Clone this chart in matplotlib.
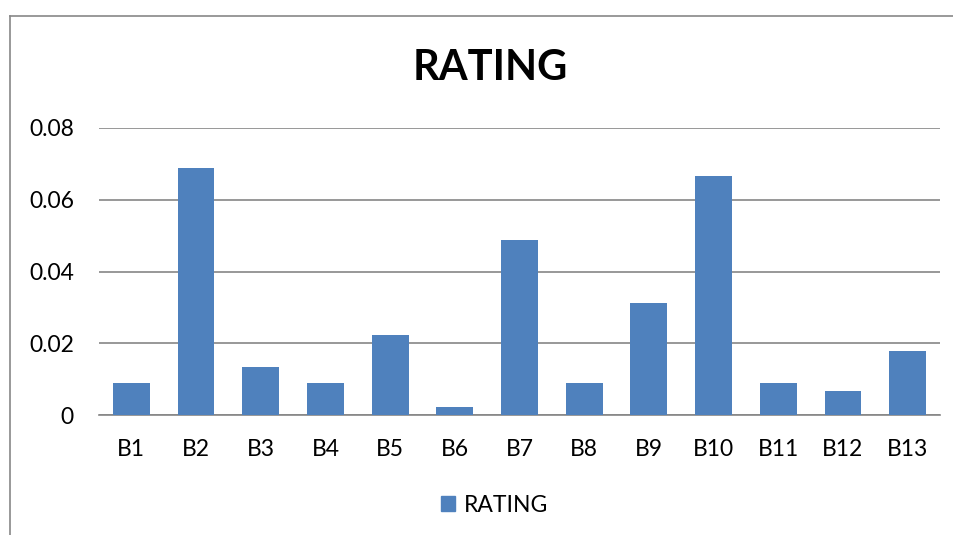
import matplotlib
matplotlib.use("Agg")
import matplotlib.pyplot as plt
from matplotlib.lines import Line2D
from matplotlib.patches import Patch

plt.rcParams['font.family'] = ['Lato', 'DejaVu Sans']

categories = ['B1', 'B2', 'B3', 'B4', 'B5', 'B6', 'B7', 'B8', 'B9', 'B10', 'B11', 'B12', 'B13']
rating = [0.0089, 0.0689, 0.0134, 0.0089, 0.0223, 0.0022, 0.0488, 0.0089, 0.0312, 0.0666, 0.0089, 0.0067, 0.0178]
yticks = [0, 0.02, 0.04, 0.06, 0.08]
ytick_labels = ['0', '0.02', '0.04', '0.06', '0.08']

W, H = 954, 535
fig = plt.figure(figsize=(W / 100, H / 100), dpi=100)

# chart frame (only top and left visible in the crop)
fig.add_artist(Line2D([10 / W, 10 / W], [0, 1 - 16 / H], color='#888888', lw=1.2))
fig.add_artist(Line2D([10 / W, 1], [1 - 16 / H, 1 - 16 / H], color='#888888', lw=1.2))

ax = fig.add_axes([99 / W, 1 - 415 / H, (940 - 99) / W, (415 - 128) / H])
x = range(len(categories))
ax.bar(x, rating, width=0.57, color='#4F81BD', zorder=3)
ax.set_xlim(-0.5, len(categories) - 0.5)
ax.set_ylim(0, 0.08)
ax.set_yticks(yticks)
ax.set_yticklabels(ytick_labels)
ax.set_xticks(list(x))
ax.set_xticklabels(categories)
ax.tick_params(length=0, labelsize=16.5)
ax.tick_params(axis='y', pad=18)
ax.tick_params(axis='x', pad=17)
ax.grid(axis='y', color='#868686', lw=1.2, zorder=0)
for s in ['top', 'right', 'left']:
    ax.spines[s].set_visible(False)
ax.spines['bottom'].set_color('#868686')
ax.spines['bottom'].set_linewidth(1.2)

fig.text(490 / W, 1 - 68 / H, 'RATING', ha='center', va='center', fontsize=30, fontweight='bold')

fig.legend(handles=[Patch(color='#4F81BD', label='RATING')], loc='center',
           bbox_to_anchor=(495 / W, 1 - 505 / H), frameon=False, fontsize=16.5,
           handlelength=0.6, handleheight=0.6, handletextpad=0.4)

fig.savefig('out.png', dpi=100)
